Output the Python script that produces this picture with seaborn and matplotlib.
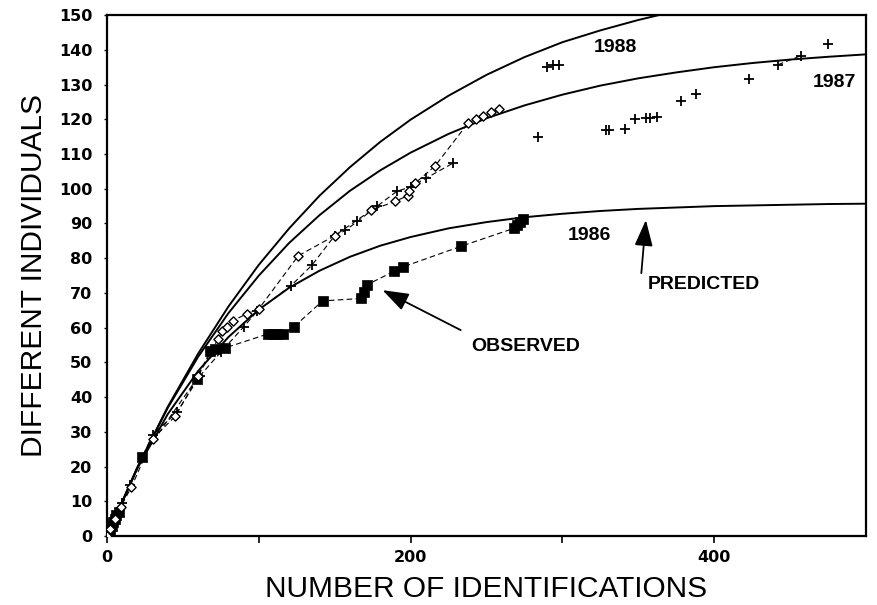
import matplotlib
matplotlib.use("Agg")
import matplotlib.pyplot as plt
import numpy as np
import pandas as pd
import seaborn as sns

# ---- predicted discovery curves (different individuals vs identifications) ----
pred_x = [0, 20, 40, 60, 80, 100, 120, 140, 160, 180, 200, 225, 250, 275, 300, 325, 350,
          375, 400, 425, 450, 475, 500]
pred_1986 = [0, 19.5, 35.1, 47.5, 57.3, 65.2, 71.5, 76.4, 80.4, 83.6, 86.1, 88.6, 90.4, 91.8, 92.8,
             93.6, 94.2, 94.6, 95.0, 95.2, 95.4, 95.6, 95.7]
pred_1987 = [0, 19.8, 36.9, 51.6, 64.2, 75.0, 84.4, 92.4, 99.4, 105.3, 110.4, 115.8, 120.3, 124.0, 127.1,
             129.7, 131.8, 133.5, 135.0, 136.2, 137.2, 138.0, 138.7]
pred_1988 = [0, 19.7, 37.2, 52.5, 66.1, 78.1, 88.6, 98.0, 106.2, 113.5, 119.9, 126.8, 132.8, 137.9, 142.2,
             145.6, 148.6, 151.2, 153.5, 155.6, 157.5, 159.1, 160.6]

# ---- observed cumulative counts ----
obs86_x = [0, 1, 2, 3, 4, 5, 6, 8, 23, 59, 68, 71, 78, 106, 109, 112, 116, 123, 142,
           167, 169, 171, 189, 195, 233, 268, 270, 272, 274]
obs86_y = [0, 1, 2, 3, 4, 5, 6, 7, 22.7, 45.2, 53.3, 54.0, 54.2, 58.2, 58.2, 58.2, 58.2, 60.2, 67.7,
           68.4, 70.3, 72.3, 76.2, 77.5, 83.4, 88.6, 89.6, 90.5, 91.2]

obs87_x = [0, 3, 6, 10, 15, 30, 46, 61, 75, 90, 99, 121, 135, 150, 157, 165, 178, 191, 200, 210, 228]
obs87_y = [0, 3, 6, 9.5, 14.8, 29.2, 35.6, 46, 53, 60.2, 64.8, 72, 78, 86.5, 88, 90.6, 95, 99.3, 100.5, 103, 107.4]
obs87_late_x = [284, 329, 331, 341, 348, 355, 358, 362, 378, 388, 423, 442, 457, 475]
obs87_late_y = [115, 117, 117, 117.2, 120.1, 120.4, 120.4, 120.7, 125.3, 127.4, 131.7, 135.7, 138.3, 141.8]

obs88_x = [0, 2, 5, 9, 16, 30, 45, 60, 73, 76, 79, 83, 92, 100, 126, 150, 174, 190, 198, 199,
           203, 216, 238, 243, 248, 253, 258]
obs88_y = [0, 2, 5, 8.5, 14, 28, 34.5, 46, 56.7, 59, 60.2, 62, 64, 65.4, 80.7, 86.5, 93.8, 96.4, 98, 99.3,
           101.6, 106.5, 119, 120, 121, 122, 123]
obs88_late_x = [290, 294, 298]
obs88_late_y = [135.2, 135.5, 135.7]

year_labels = ["1986", "1987", "1988"]
x_ticks = [0, 100, 200, 300, 400]
x_tick_labels = ["0", "", "200", "", "400"]
y_ticks = list(range(0, 151, 10))

sns.set_style("ticks")
plt.rcParams["font.family"] = ["Liberation Sans", "DejaVu Sans"]
plt.rcParams.update({
    "text.color": "black", "axes.labelcolor": "black",
    "xtick.color": "black", "ytick.color": "black", "axes.edgecolor": "black",
})

fig = plt.figure(figsize=(8.78, 6.05), dpi=100)
ax = fig.add_axes([0.1219, 0.114, 0.8644, 0.861])

# predicted curves
pred = pd.DataFrame({
    "x": pred_x * 3,
    "y": pred_1986 + pred_1987 + pred_1988,
    "year": [year_labels[0]] * len(pred_x) + [year_labels[1]] * len(pred_x) + [year_labels[2]] * len(pred_x),
})
for yr in year_labels:
    d = pred[pred["year"] == yr]
    sns.lineplot(data=d, x="x", y="y", color="black", linewidth=1.4,
                 estimator=None, sort=False, ax=ax)

dash = (0, (5, 3))
obs_lw = 0.8

# observed 1986: filled squares
sns.lineplot(x=obs86_x, y=obs86_y, color="black", linewidth=obs_lw, linestyle=dash,
             estimator=None, sort=False, ax=ax)
sns.scatterplot(x=obs86_x, y=obs86_y, marker="s", s=60, color="black",
                edgecolor="black", linewidth=0.5, ax=ax, zorder=4)

# observed 1987: plus signs
sns.lineplot(x=obs87_x, y=obs87_y, color="black", linewidth=obs_lw, linestyle=dash,
             estimator=None, sort=False, ax=ax)
sns.lineplot(x=obs87_late_x[-3:-1], y=obs87_late_y[-3:-1], color="black", linewidth=obs_lw,
             linestyle=dash, estimator=None, sort=False, ax=ax)
sns.scatterplot(x=obs87_x + obs87_late_x, y=obs87_y + obs87_late_y, marker="+", s=55,
                color="black", linewidth=1.3, ax=ax, zorder=4)

# observed 1988: open diamonds
sns.lineplot(x=obs88_x, y=obs88_y, color="black", linewidth=obs_lw, linestyle=dash,
             estimator=None, sort=False, ax=ax)
sns.scatterplot(x=obs88_x, y=obs88_y, marker="D", s=22, facecolor="white",
                edgecolor="black", linewidth=1.0, ax=ax, zorder=5)
sns.scatterplot(x=obs88_late_x, y=obs88_late_y, marker="+", s=50, color="black",
                linewidth=1.3, ax=ax, zorder=4)

# curve labels
lab_kw = dict(fontsize=14, fontweight="bold", ha="center", va="center", color="black")
ax.text(335, 140.8, year_labels[2], **lab_kw)
ax.text(479, 130.7, year_labels[1], **lab_kw)
ax.text(317.5, 86.4, year_labels[0], **lab_kw)

# annotations
arrow = dict(arrowstyle="-|>,head_length=0.8,head_width=0.28", color="black",
             lw=1.3, mutation_scale=20, shrinkA=0, shrinkB=0)
ax.annotate("", xy=(181.5, 70.8), xytext=(233, 59.3), arrowprops=arrow)
ax.text(276, 54.7, "OBSERVED", **lab_kw)
ax.annotate("", xy=(355, 91), xytext=(352, 75.7), arrowprops=arrow)
ax.text(393, 72.3, "PREDICTED", **lab_kw)

ax.set_xlim(0, 500)
ax.set_ylim(0, 150)
ax.set_xticks(x_ticks)
ax.set_xticklabels(x_tick_labels)
ax.set_yticks(y_ticks)
ax.set_yticklabels([str(v) for v in y_ticks])
for lbl in ax.get_xticklabels() + ax.get_yticklabels():
    lbl.set_fontfamily(["DejaVu Sans"])
    lbl.set_fontweight("bold")
    lbl.set_fontsize(11.5)
    lbl.set_color("black")
ax.tick_params(axis="x", direction="out", length=5, width=1.2, pad=5)
ax.tick_params(axis="y", direction="out", length=2.5, width=1.0, pad=8)

ax.set_xlabel("NUMBER OF IDENTIFICATIONS", fontsize=21.5, color="black", labelpad=7)
ax.set_ylabel("DIFFERENT INDIVIDUALS", fontsize=21.5, color="black", labelpad=8)

for side in ["left", "bottom", "top", "right"]:
    ax.spines[side].set_visible(True)
    ax.spines[side].set_color("black")
    ax.spines[side].set_linewidth(1.6)

fig.savefig("out.png", dpi=100, facecolor="white")
